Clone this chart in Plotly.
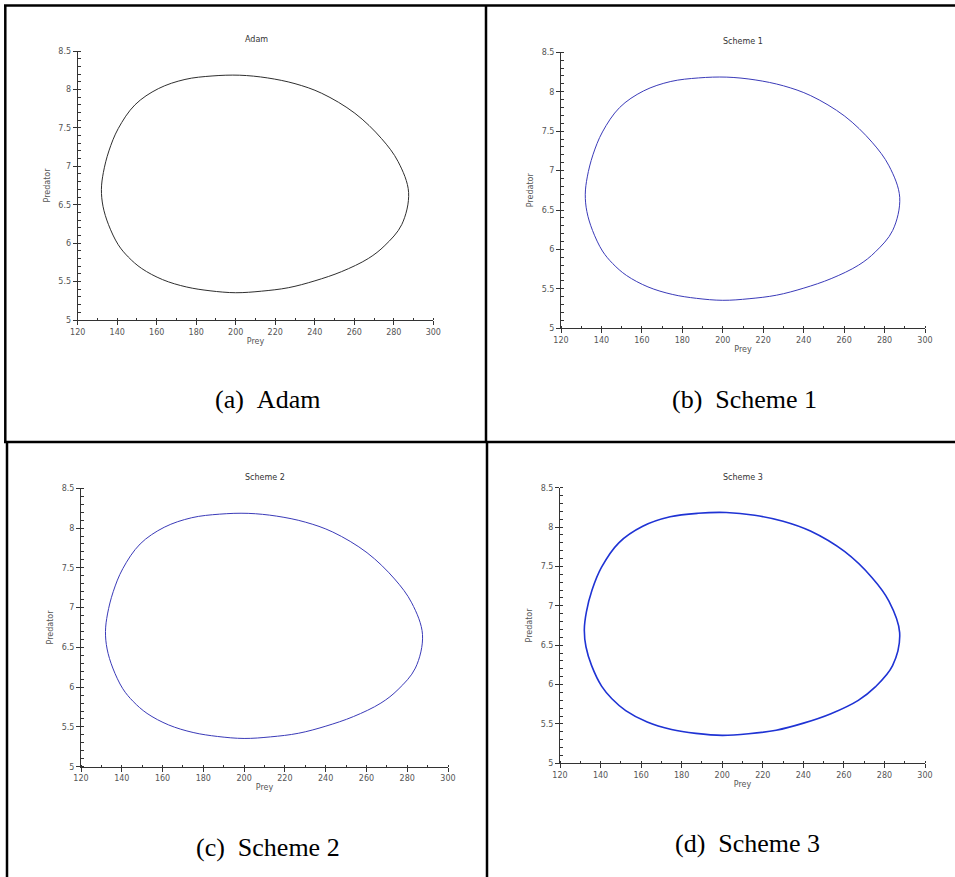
import plotly.graph_objects as go

## Lotka-Volterra phase portrait (all four runs overlap at this scale)
prey = [132.0, 133.0, 135.8, 140.5, 149.0, 160.8, 174.3, 188.0, 202.0, 216.0, 230.0, 243.5,
        260.3, 273.8, 282.2, 287.5, 284.0, 275.5, 267.1, 253.6, 240.1, 226.6, 213.0, 200.0,
        187.0, 175.0, 163.0, 152.4, 145.6, 140.5, 135.6, 132.8, 132.0]
predator = [6.70, 6.92, 7.20, 7.49, 7.80, 8.01, 8.13, 8.175, 8.185, 8.15, 8.075, 7.95,
            7.69, 7.36, 7.06, 6.66, 6.24, 5.97, 5.80, 5.63, 5.51, 5.42, 5.375, 5.355,
            5.38, 5.43, 5.525, 5.67, 5.82, 5.98, 6.24, 6.48, 6.70]

titles = ["Adam", "Scheme 1", "Scheme 2", "Scheme 3"]
captions = ["(a)\u00a0\u00a0Adam", "(b)\u00a0\u00a0Scheme 1", "(c)\u00a0\u00a0Scheme 2", "(d)\u00a0\u00a0Scheme 3"]
colors = ["#2e2e2e", "#3a3ab8", "#3a3ab8", "#1f33d4"]
widths = [1.0, 1.0, 1.0, 1.6]

W, H = 955, 877
# plot boxes in pixels: x0, x1, ytop, ybottom
boxes = [(77.7, 433.3, 51, 320), (561, 925, 52.3, 328.3),
         (81, 448, 488.3, 766.7), (560, 925, 487.7, 763.3)]
title_pos = [(256, 40), (743, 41), (265, 477), (743, 477)]
cap_pos = [(267, 400), (744, 400), (268, 847), (747, 843)]

tickfont = dict(family="DejaVu Sans", size=8, color="#555555")

fig = go.Figure()
layout = {}
annotations = []
for i in range(4):
    sfx = "" if i == 0 else str(i + 1)
    x0, x1, yt, yb = boxes[i]
    fig.add_trace(go.Scatter(x=prey, y=predator, mode="lines", line_shape="spline",
                             line=dict(color=colors[i], width=widths[i]),
                             xaxis="x" + sfx, yaxis="y" + sfx, showlegend=False))
    layout["xaxis" + sfx] = dict(
        domain=[x0 / W, x1 / W], range=[120, 300], anchor="y" + sfx, automargin=False,
        dtick=20, ticks="outside", ticklen=4, tickcolor="#333", tickfont=tickfont,
        showline=True, linecolor="#333", linewidth=1, showgrid=False, zeroline=False,
        minor=dict(dtick=10, ticks="inside", ticklen=2, tickcolor="#333"),
        title=dict(text="Prey", font=tickfont, standoff=2))
    layout["yaxis" + sfx] = dict(
        domain=[1 - yb / H, 1 - yt / H], range=[5, 8.5], anchor="x" + sfx, automargin=False,
        dtick=0.5, ticks="outside", ticklen=4, tickcolor="#333", tickfont=tickfont,
        showline=True, linecolor="#333", linewidth=1, showgrid=False, zeroline=False,
        minor=dict(dtick=0.1, ticks="inside", ticklen=3, tickcolor="#333"),
        title=dict(text="Predator", font=tickfont, standoff=6))
    tx, ty = title_pos[i]
    annotations.append(dict(text=titles[i], x=tx / W, y=1 - ty / H, xref="paper", yref="paper",
                            xanchor="center", yanchor="middle", showarrow=False,
                            font=dict(family="DejaVu Sans", size=8, color="#333")))
    cx, cy = cap_pos[i]
    annotations.append(dict(text=captions[i], x=cx / W, y=1 - cy / H, xref="paper", yref="paper",
                            xanchor="center", yanchor="middle", showarrow=False,
                            font=dict(family="Liberation Serif", size=26, color="black")))

# table borders
def seg(xa, ya, xb, yb):
    return dict(type="line", xref="paper", yref="paper", x0=xa / W, y0=1 - ya / H,
                x1=xb / W, y1=1 - yb / H, line=dict(color="black", width=2.5))

shapes = [seg(4, 5.5, 955, 5.5), seg(4, 442, 955, 442),
          seg(5.3, 5, 5.3, 442), seg(486, 5, 486, 442),
          seg(7, 442, 7, 877), seg(487, 442, 487, 877)]

fig.update_layout(template="none", width=W, height=H, margin=dict(l=0, r=0, t=0, b=0),
                  paper_bgcolor="white", plot_bgcolor="white",
                  annotations=annotations, shapes=shapes, **layout)
# page body has a default 8px margin; drop it so the figure sits at the window corner
fig.write_html("out.html", config={"displayModeBar": False},
               post_script="document.body.style.margin='0';")
